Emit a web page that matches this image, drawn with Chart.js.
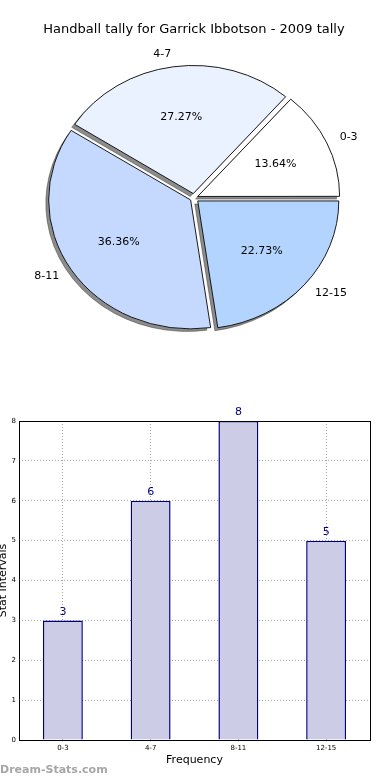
<!DOCTYPE html>
<html>
<head>
<meta charset="utf-8">
<script src="https://cdn.jsdelivr.net/npm/chart.js@4/dist/chart.umd.min.js"></script>
<style>
    html, body { margin: 0; padding: 0; background: #fff; }
    body { width: 390px; height: 780px; position: relative; overflow: hidden; font-family: "DejaVu Sans", sans-serif; }
    #pie-chart { position: absolute; left: 0; top: 0; }
    #bar-chart { position: absolute; left: -3px; top: 380px; }
    #mark { position: absolute; left: 0; top: 763px; font-size: 11px; font-weight: bold; color: #a6a6a6; white-space: nowrap; }
</style>
</head>
<body>
<canvas id="pie-chart" width="390" height="370"></canvas>
<canvas id="bar-chart" width="393" height="400"></canvas>
<div id="mark">Dream-Stats.com</div>
<script>
const chartTitle = 'Handball tally for Garrick Ibbotson - 2009 tally';
const categories = ['0-3', '4-7', '8-11', '12-15'];
const tallies = [3, 6, 8, 5];
const xTitle = 'Frequency';
const yTitle = 'Stat Intervals';
const yMax = 8;

const sliceColors = ['#ffffff', '#ebf2ff', '#c5d9ff', '#b3d4ff'];
const font = 'DejaVu Sans';
const pieSquash = 0.908;
const explodePx = 5;

Chart.defaults.font.family = font;

// matplotlib goes counter-clockwise from 3 o'clock, chart.js clockwise -> reverse
const pieOrder = categories.map((c, i) => i).reverse();
const pieLabels = pieOrder.map(i => categories[i]);
const pieValues = pieOrder.map(i => tallies[i]);
const pieColors = pieOrder.map(i => sliceColors[i]);
const pieTotal = pieValues.reduce((a, b) => a + b, 0);

const pieLook = {
    id: 'pieLook',
    beforeDatasetsDraw(chart) {
        const ctx = chart.ctx;
        const arcs = chart.getDatasetMeta(0).data;
        const ox = arcs[0].x, oy = arcs[0].y;
        ctx.save();
        ctx.translate(ox, oy);
        ctx.scale(1, pieSquash);
        ctx.translate(-ox, -oy);
        // grey shadow copies first, under every slice
        ctx.save();
        ctx.translate(-3, 3 / pieSquash);
        ctx.fillStyle = 'rgba(0,0,0,0.45)';
        ctx.strokeStyle = 'rgba(0,0,0,0.35)';
        ctx.lineWidth = 1;
        arcs.forEach(arc => {
            const mid = (arc.startAngle + arc.endAngle) / 2;
            const cx = arc.x + Math.cos(mid) * explodePx;
            const cy = arc.y + Math.sin(mid) * explodePx;
            ctx.beginPath();
            ctx.moveTo(cx, cy);
            ctx.arc(cx, cy, arc.outerRadius, arc.startAngle, arc.endAngle);
            ctx.closePath();
            ctx.fill();
            ctx.stroke();
        });
        ctx.restore();
    },
    afterDatasetsDraw(chart) {
        const ctx = chart.ctx;
        ctx.restore();
        ctx.save();
        ctx.font = '11px "' + font + '"';
        ctx.fillStyle = '#000';
        ctx.textBaseline = 'middle';
        chart.getDatasetMeta(0).data.forEach((arc, i) => {
            const mid = (arc.startAngle + arc.endAngle) / 2;
            const cos = Math.cos(mid), sin = Math.sin(mid);
            const cx = arc.x + cos * explodePx;
            const cy = arc.y + sin * explodePx * pieSquash;
            const r = arc.outerRadius;
            ctx.textAlign = 'center';
            ctx.fillText((pieValues[i] / pieTotal * 100).toFixed(2) + '%', cx + cos * r * 0.6, cy + sin * r * 0.6 * pieSquash);
            ctx.textAlign = cos > 0 ? 'left' : 'right';
            ctx.fillText(pieLabels[i], cx + cos * r * 1.1, cy + sin * r * 1.1 * pieSquash);
        });
        ctx.restore();
    }
};

new Chart(document.getElementById('pie-chart'), {
    type: 'pie',
    data: {
        labels: pieLabels,
        datasets: [{
            data: pieValues,
            backgroundColor: pieColors,
            borderColor: '#111',
            borderWidth: 1,
            radius: 141,
            // chart.js moves an arc by offset/4 * (1 + fix), undo that so every slice moves explodePx
            offset: (c) => {
                if (c.type !== 'data') return explodePx * 4;
                const circ = c.raw / pieTotal * 2 * Math.PI;
                const fix = 1 - Math.sin(Math.min(Math.PI, circ));
                return explodePx * 4 / (1 + fix);
            }
        }]
    },
    options: {
        responsive: false,
        animation: false,
        rotation: 90,
        layout: {padding: {top: 0, right: 2, bottom: 11.6, left: 0}},
        plugins: {
            legend: {display: false},
            tooltip: {enabled: false},
            title: {
                display: true,
                text: chartTitle,
                color: '#000',
                font: {family: font, size: 13, weight: 'normal'},
                padding: {top: 22, bottom: 0}
            }
        }
    },
    plugins: [pieLook]
});

const barLook = {
    id: 'barLook',
    afterDraw(chart) {
        const {ctx, chartArea} = chart;
        ctx.save();
        ctx.strokeStyle = '#000';
        ctx.lineWidth = 1;
        ctx.strokeRect(Math.round(chartArea.left) + 0.5, Math.round(chartArea.top) + 0.5,
            Math.round(chartArea.right - chartArea.left), Math.round(chartArea.bottom - chartArea.top));
        ctx.font = '11px "' + font + '"';
        ctx.fillStyle = '#000080';
        ctx.textAlign = 'center';
        ctx.textBaseline = 'middle';
        chart.getDatasetMeta(0).data.forEach((bar, i) => {
            ctx.fillText(String(tallies[i]), bar.x, bar.y - 8.5);
        });
        ctx.restore();
    }
};

const gridStyle = {color: '#a8a8a8', lineWidth: 1, drawTicks: false};

new Chart(document.getElementById('bar-chart'), {
    type: 'bar',
    data: {
        labels: categories,
        datasets: [{
            data: tallies,
            backgroundColor: '#ccccE6',
            borderColor: '#000080',
            borderWidth: 1.5,
            barPercentage: 0.455,
            categoryPercentage: 1
        }]
    },
    options: {
        responsive: false,
        animation: false,
        layout: {padding: {top: 41, right: 20, bottom: 13.4, left: 0}},
        plugins: {legend: {display: false}, tooltip: {enabled: false}},
        scales: {
            x: {
                z: 1,
                grid: Object.assign({offset: false}, gridStyle),
                border: {display: false, dash: [1, 2]},
                ticks: {color: '#000', font: {size: 7}, padding: 4, maxRotation: 0},
                title: {display: true, text: xTitle, color: '#000', font: {size: 11}, padding: 0},
                afterFit(scale) { scale.height = 26.6; }
            },
            y: {
                z: 1,
                min: 0,
                max: yMax,
                grid: gridStyle,
                border: {display: false, dash: [1, 2]},
                ticks: {stepSize: 1, color: '#000', font: {size: 7}, padding: 3},
                title: {display: true, text: yTitle, color: '#000', font: {size: 11}, padding: 0},
                afterFit(scale) { scale.width = 22; }
            }
        }
    },
    plugins: [barLook]
});
</script>
</body>
</html>
